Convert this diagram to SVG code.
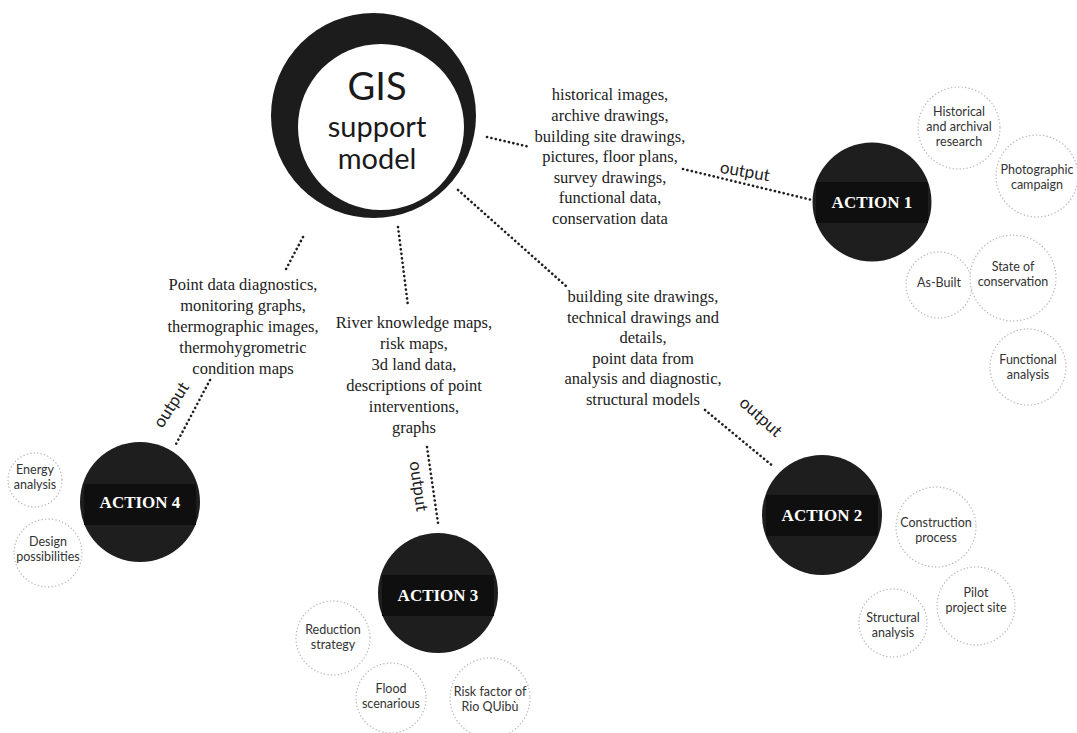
<svg xmlns="http://www.w3.org/2000/svg" width="1077" height="733" viewBox="0 0 1077 733">
<style>
.bg{fill:#ffffff}
.dot{fill:none;stroke:#1e1e1e;stroke-width:2.6;stroke-linecap:round;stroke-dasharray:0.1 4.4}
.sat{fill:#ffffff;stroke:#b8b8b8;stroke-width:1.4;stroke-linecap:round;stroke-dasharray:0.1 3.4}
.act{fill:#1e1e1e}
.band{fill:#0f0f0f}
.acttxt{font-family:"Liberation Serif",serif;font-weight:bold;font-size:17px;fill:#ffffff;text-anchor:middle}
.info{font-family:"Liberation Serif",serif;font-size:16.5px;fill:#222222;text-anchor:middle}
.sattxt{font-family:Lato,"Open Sans",sans-serif;font-size:12.5px;fill:#333333;text-anchor:middle}
.out{font-family:Lato,"Open Sans",sans-serif;font-size:17px;fill:#222222;text-anchor:middle}
.gis{font-family:Lato,"Open Sans",sans-serif;fill:#1a1a1a;text-anchor:middle}
</style>
<rect class="bg" x="0" y="0" width="1077" height="733"/>

<g id="connectors">
  <line class="dot" x1="487" y1="137" x2="530" y2="147"/>
  <line class="dot" x1="683" y1="169" x2="812" y2="200"/>
  <line class="dot" x1="458" y1="190" x2="566" y2="286"/>
  <line class="dot" x1="705" y1="410" x2="774" y2="467"/>
  <line class="dot" x1="398" y1="227" x2="408" y2="306"/>
  <line class="dot" x1="427" y1="447" x2="438" y2="523"/>
  <line class="dot" x1="303" y1="237" x2="285" y2="271"/>
  <line class="dot" x1="210" y1="380" x2="175" y2="446"/>
  <text class="out" transform="translate(744,177) rotate(10)">output</text>
  <text class="out" transform="translate(757,421) rotate(42)">output</text>
  <text class="out" transform="translate(413,487) rotate(82)">output</text>
  <text class="out" transform="translate(176,408) rotate(-57)">output</text>
</g>

<g id="gis">
  <circle cx="373.5" cy="115.5" r="102.5" fill="#1c1c1c"/>
  <circle cx="381" cy="127" r="83" fill="#ffffff"/>
  <text class="gis" x="377" y="100" font-size="38">GIS</text>
  <text class="gis" x="377" y="137" font-size="29">support</text>
  <text class="gis" x="377" y="169" font-size="29">model</text>
</g>

<g id="info1">
  <text class="info" x="610" y="100">historical images,</text>
  <text class="info" x="610" y="121">archive drawings,</text>
  <text class="info" x="610" y="141.5">building site drawings,</text>
  <text class="info" x="610" y="162">pictures, floor plans,</text>
  <text class="info" x="610" y="182.5">survey drawings,</text>
  <text class="info" x="610" y="203">functional data,</text>
  <text class="info" x="610" y="223.5">conservation data</text>
</g>

<g id="info2">
  <text class="info" x="643" y="302">building site drawings,</text>
  <text class="info" x="643" y="322.5">technical drawings and</text>
  <text class="info" x="643" y="343">details,</text>
  <text class="info" x="643" y="363.5">point data from</text>
  <text class="info" x="643" y="384">analysis and diagnostic,</text>
  <text class="info" x="643" y="404.5">structural models</text>
</g>

<g id="info3">
  <text class="info" x="414" y="328">River knowledge maps,</text>
  <text class="info" x="414" y="349">risk maps,</text>
  <text class="info" x="414" y="370">3d land data,</text>
  <text class="info" x="414" y="391">descriptions of point</text>
  <text class="info" x="414" y="412">interventions,</text>
  <text class="info" x="414" y="433">graphs</text>
</g>

<g id="info4">
  <text class="info" x="243" y="290">Point data diagnostics,</text>
  <text class="info" x="243" y="311">monitoring graphs,</text>
  <text class="info" x="243" y="332">thermographic images,</text>
  <text class="info" x="243" y="353">thermohygrometric</text>
  <text class="info" x="243" y="374">condition maps</text>
</g>

<g id="action1">
  <circle class="act" cx="872" cy="202" r="59.5"/>
  <rect class="band" x="816" y="182" width="112" height="41"/>
  <text class="acttxt" x="872" y="208">ACTION 1</text>
</g>
<g id="action2">
  <circle class="act" cx="822" cy="515" r="60"/>
  <rect class="band" x="766" y="495" width="112" height="41"/>
  <text class="acttxt" x="822" y="521">ACTION 2</text>
</g>
<g id="action3">
  <circle class="act" cx="438" cy="593" r="60"/>
  <rect class="band" x="382" y="575" width="112" height="41"/>
  <text class="acttxt" x="438" y="601">ACTION 3</text>
</g>
<g id="action4">
  <circle class="act" cx="140" cy="502" r="60"/>
  <rect class="band" x="84" y="484" width="112" height="41"/>
  <text class="acttxt" x="140" y="508">ACTION 4</text>
</g>

<g id="sat-historical">
  <circle class="sat" cx="959" cy="128" r="41"/>
  <text class="sattxt" x="959" y="116">Historical</text>
  <text class="sattxt" x="959" y="131">and archival</text>
  <text class="sattxt" x="959" y="146">research</text>
</g>
<g id="sat-photographic">
  <circle class="sat" cx="1037" cy="176" r="41"/>
  <text class="sattxt" x="1037" y="174">Photographic</text>
  <text class="sattxt" x="1037" y="189">campaign</text>
</g>
<g id="sat-asbuilt">
  <circle class="sat" cx="939" cy="285" r="33"/>
  <text class="sattxt" x="939" y="287">As-Built</text>
</g>
<g id="sat-state">
  <circle class="sat" cx="1013" cy="278" r="43"/>
  <text class="sattxt" x="1013" y="271">State of</text>
  <text class="sattxt" x="1013" y="286">conservation</text>
</g>
<g id="sat-functional">
  <circle class="sat" cx="1028" cy="367" r="38"/>
  <text class="sattxt" x="1028" y="364">Functional</text>
  <text class="sattxt" x="1028" y="379">analysis</text>
</g>

<g id="sat-construction">
  <circle class="sat" cx="936" cy="527" r="40"/>
  <text class="sattxt" x="936" y="527">Construction</text>
  <text class="sattxt" x="936" y="542">process</text>
</g>
<g id="sat-pilot">
  <circle class="sat" cx="976" cy="606" r="39"/>
  <text class="sattxt" x="976" y="597">Pilot</text>
  <text class="sattxt" x="976" y="612">project site</text>
</g>
<g id="sat-structural">
  <circle class="sat" cx="893" cy="623" r="34"/>
  <text class="sattxt" x="893" y="622">Structural</text>
  <text class="sattxt" x="893" y="637">analysis</text>
</g>

<g id="sat-reduction">
  <circle class="sat" cx="333" cy="638" r="37"/>
  <text class="sattxt" x="333" y="634">Reduction</text>
  <text class="sattxt" x="333" y="649">strategy</text>
</g>
<g id="sat-flood">
  <circle class="sat" cx="391" cy="698" r="35"/>
  <text class="sattxt" x="391" y="693">Flood</text>
  <text class="sattxt" x="391" y="708">scenarious</text>
</g>
<g id="sat-risk">
  <circle class="sat" cx="490" cy="698" r="40"/>
  <text class="sattxt" x="490" y="696">Risk factor of</text>
  <text class="sattxt" x="490" y="711">Rio QUibù</text>
</g>

<g id="sat-energy">
  <circle class="sat" cx="35" cy="480" r="27"/>
  <text class="sattxt" x="35" y="474">Energy</text>
  <text class="sattxt" x="35" y="489">analysis</text>
</g>
<g id="sat-design">
  <circle class="sat" cx="48" cy="553" r="34"/>
  <text class="sattxt" x="48" y="546">Design</text>
  <text class="sattxt" x="48" y="561">possibilities</text>
</g>
</svg>
